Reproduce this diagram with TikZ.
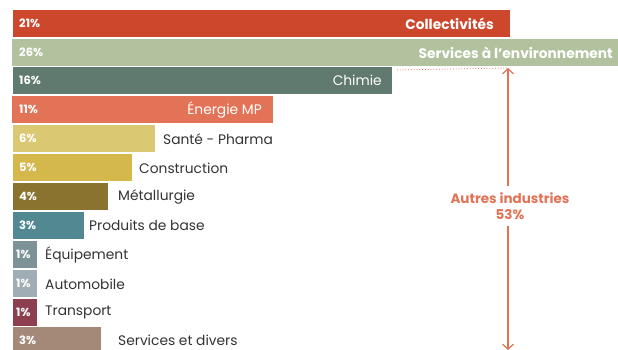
\documentclass[tikz,border=0pt]{standalone}
\usepackage{fontspec}
\setmainfont{Poppins}
\usetikzlibrary{arrows.meta}

\definecolor{collcol}{HTML}{CC472C}
\definecolor{envcol}{HTML}{B3C29E}
\definecolor{chimcol}{HTML}{607A70}
\definecolor{enercol}{HTML}{E27356}
\definecolor{santcol}{HTML}{DBC872}
\definecolor{conscol}{HTML}{D4B84C}
\definecolor{metacol}{HTML}{8A732F}
\definecolor{prodcol}{HTML}{518891}
\definecolor{equicol}{HTML}{7D9297}
\definecolor{autocol}{HTML}{A0ADB5}
\definecolor{trancol}{HTML}{8E3F4F}
\definecolor{servcol}{HTML}{A48978}
\definecolor{textcol}{HTML}{333333}

\tikzset{
  bar/.style={anchor=north west, inner sep=0pt, minimum height=27pt},
  pct/.style={anchor=west, text=white, font=\fontsize{11.5}{13}\selectfont\bfseries, inner sep=0pt},
  inlab/.style={anchor=east, text=white, font=\fontsize{13.8}{16}\selectfont, inner sep=0pt},
  outlab/.style={anchor=west, text=textcol, font=\fontsize{13.8}{16}\selectfont, inner sep=0pt},
}

\begin{document}
\begin{tikzpicture}[x=1pt, y=-1pt]
    \useasboundingbox (0,0) rectangle (618,350);

    % Bars
    \node[bar, fill=collcol, minimum width=497pt] (b1) at (13,10) {};
    \node[bar, fill=envcol, minimum width=606pt] (b2) at (12,39) {};
    \node[bar, fill=chimcol, minimum width=379pt] (b3) at (13,67) {};
    \node[bar, fill=enercol, minimum width=261pt] (b4) at (12,96) {};
    \node[bar, fill=santcol, minimum width=142pt] (b5) at (13,125) {};
    \node[bar, fill=conscol, minimum width=119pt] (b6) at (13,154) {};
    \node[bar, fill=metacol, minimum width=95pt] (b7) at (13,183) {};
    \node[bar, fill=prodcol, minimum width=71pt] (b8) at (13,212) {};
    \node[bar, fill=equicol, minimum width=24pt] (b9) at (13,241) {};
    \node[bar, fill=autocol, minimum width=24pt] (b10) at (13,270) {};
    \node[bar, fill=trancol, minimum width=24pt] (b11) at (13,299) {};
    \node[bar, fill=servcol, minimum width=88pt] (b12) at (13,327) {};

    % Percentages
    \node[pct] (p1) at (19,23.5) {21\%};
    \node[pct] (p2) at (19,52.5) {26\%};
    \node[pct] (p3) at (19,80.5) {16\%};
    \node[pct] (p4) at (19,109.5) {11\%};
    \node[pct] (p5) at (19,138.5) {6\%};
    \node[pct] (p6) at (19,167.5) {5\%};
    \node[pct] (p7) at (19,196.5) {4\%};
    \node[pct] (p8) at (19,225.5) {3\%};
    \node[pct] (p9) at (16,254.5) {1\%};
    \node[pct] (p10) at (16,283.5) {1\%};
    \node[pct] (p11) at (16,312.5) {1\%};
    \node[pct] (p12) at (19,340.5) {3\%};

    % Sector names
    \node[inlab, font=\fontsize{13.8}{16}\selectfont\bfseries] (l1) at (494,23.5) {Collectivités};
    \node[inlab, font=\fontsize{13.8}{16}\selectfont\bfseries] (l2) at (613,52.5) {Services à l’environnement};
    \node[inlab] (l3) at (382,80.5) {Chimie};
    \node[inlab] (l4) at (262,109.5) {Énergie MP};
    \node[outlab] (l5) at (163,139) {Santé - Pharma};
    \node[outlab] (l6) at (139,168) {Construction};
    \node[outlab] (l7) at (118,197) {Métallurgie};
    \node[outlab] (l8) at (89,225) {Produits de base};
    \node[outlab] (l9) at (45,255) {Équipement};
    \node[outlab] (l10) at (45,284) {Automobile};
    \node[outlab] (l11) at (45,312) {Transport};
    \node[outlab] (l12) at (118,340.5) {Services et divers};

    % Other industries bracket
    \coordinate (dotL) at (397,70);
    \coordinate (top) at (508,68);
    \coordinate (bot) at (508,350);
    \node[text=enercol, font=\fontsize{13.5}{16}\selectfont\bfseries, align=center, inner sep=6pt] (autres) at (510,206) {Autres industries\\53\%};
    \draw[enercol, line width=0.8pt, dotted] (dotL) -- (top);
    \draw[enercol, line width=1.2pt, -{Straight Barb[length=5pt, width=11pt]}] (autres.north -| top) -- (top);
    \draw[enercol, line width=1.2pt, -{Straight Barb[length=5pt, width=11pt]}] (autres.south -| bot) -- (bot);
\end{tikzpicture}
\end{document}
